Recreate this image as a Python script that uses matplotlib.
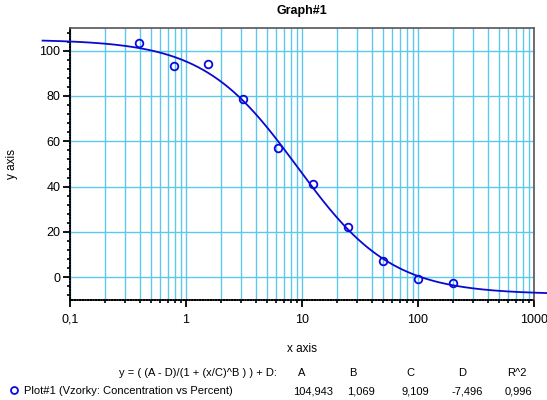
import numpy as np
import matplotlib
matplotlib.use("Agg")
import matplotlib.pyplot as plt
from matplotlib.ticker import FixedLocator, LogLocator, NullFormatter, FuncFormatter

plt.rcParams['font.family'] = ['Liberation Sans', 'DejaVu Sans']

# measured points
conc = [0.390625, 0.78125, 1.5625, 3.125, 6.25, 12.5, 25, 50, 100, 200]
percent = [103.5, 93.2, 94.2, 78.8, 57.0, 41.2, 22.2, 7.3, -0.7, -2.4]

# 4PL fit parameters shown under the chart
fit_names = ["A", "B", "C", "D", "R^2"]
fit_values = [104.943, 1.069, 9.109, -7.496, 0.996]
fit_labels = ["104,943", "1,069", "9,109", "-7,496", "0,996"]

x_ticks = [0.1, 1, 10, 100, 1000]
x_ticklabels = ["0,1", "1", "10", "100", "1000"]
y_ticks = [0, 20, 40, 60, 80, 100]

A, B, C, D = fit_values[:4]

fig = plt.figure(figsize=(5.47, 4.00), dpi=100)
ax = fig.add_axes([70 / 547, 100 / 400, 464 / 547, 272 / 400])

grid_col = '#5EC8EC'
ax.set_xscale('log')
ax.set_xlim(0.1, 1000)
ax.set_ylim(-10, 110)

ax.xaxis.set_major_locator(FixedLocator(x_ticks))
ax.xaxis.set_major_formatter(FuncFormatter(lambda v, p: x_ticklabels[x_ticks.index(v)] if v in x_ticks else ""))
ax.xaxis.set_minor_locator(LogLocator(base=10, subs=np.arange(2, 10)))
ax.xaxis.set_minor_formatter(NullFormatter())
ax.yaxis.set_major_locator(FixedLocator(y_ticks))
ax.yaxis.set_minor_locator(FixedLocator(np.arange(-8, 110, 4)))

ax.grid(True, which='major', axis='both', color=grid_col, lw=1.0)
ax.grid(True, which='minor', axis='x', color=grid_col, lw=1.0)
ax.set_axisbelow(True)

ax.tick_params(which='major', direction='out', length=5, width=1.3, labelsize=9, colors='black')
ax.tick_params(which='minor', direction='out', length=2.5, width=1.2)
ax.tick_params(axis='x', pad=5)
ax.tick_params(axis='y', pad=2)

for s in ['top', 'right']:
    ax.spines[s].set_color('#555555')
    ax.spines[s].set_linestyle((0, (1, 1)))
    ax.spines[s].set_linewidth(1.2)
for s in ['left', 'bottom']:
    ax.spines[s].set_color('black')
    ax.spines[s].set_linestyle((0, (1, 0.6)))
    ax.spines[s].set_linewidth(1.2)

# fitted curve (drawn past the plot frame like the original)
xf = np.logspace(np.log10(0.058), np.log10(1300), 400)
yf = (A - D) / (1 + (xf / C) ** B) + D
ax.plot(xf, yf, color='#0A0ACF', lw=1.3, clip_on=False, zorder=3)

ax.plot(conc, percent, 'o', mfc='none', mec='#0A0AE0', ms=5.5, mew=1.3, zorder=4)

ax.set_xlabel("x axis", fontsize=8.5)
ax.set_ylabel("y axis", fontsize=8.5)
ax.xaxis.set_label_coords(0.5, (300 - 343) / 272)
ax.yaxis.set_label_coords((18 - 70) / 464, 0.5)
ax.set_title("Graph#1", fontsize=9, fontweight='bold', pad=10)

# fit table under the chart
fig.text(277 / 547, 1 - 373 / 400, "y = ( (A - D)/(1 + (x/C)^B ) ) + D:", fontsize=8,
         ha='right', va='center')
head_x = [302, 353, 410, 462, 517]
val_x = [293, 347, 402, 452, 505]
for hx, name in zip(head_x, fit_names):
    fig.text(hx / 547, 1 - 373 / 400, name, fontsize=8, ha='center', va='center')
for vx, lab in zip(val_x, fit_labels):
    fig.text(vx / 547, 1 - 391 / 400, lab, fontsize=8, ha='left', va='center')
fig.text(24 / 547, 1 - 391 / 400, "Plot#1 (Vzorky: Concentration vs Percent)", fontsize=8,
         ha='left', va='center')
fig.lines.append(plt.Line2D([14 / 547], [1 - 390 / 400], transform=fig.transFigure,
                            marker='o', mfc='none', mec='#0A0AE0', ms=5, mew=1.3, ls='none'))

fig.savefig("out.png", dpi=100)
